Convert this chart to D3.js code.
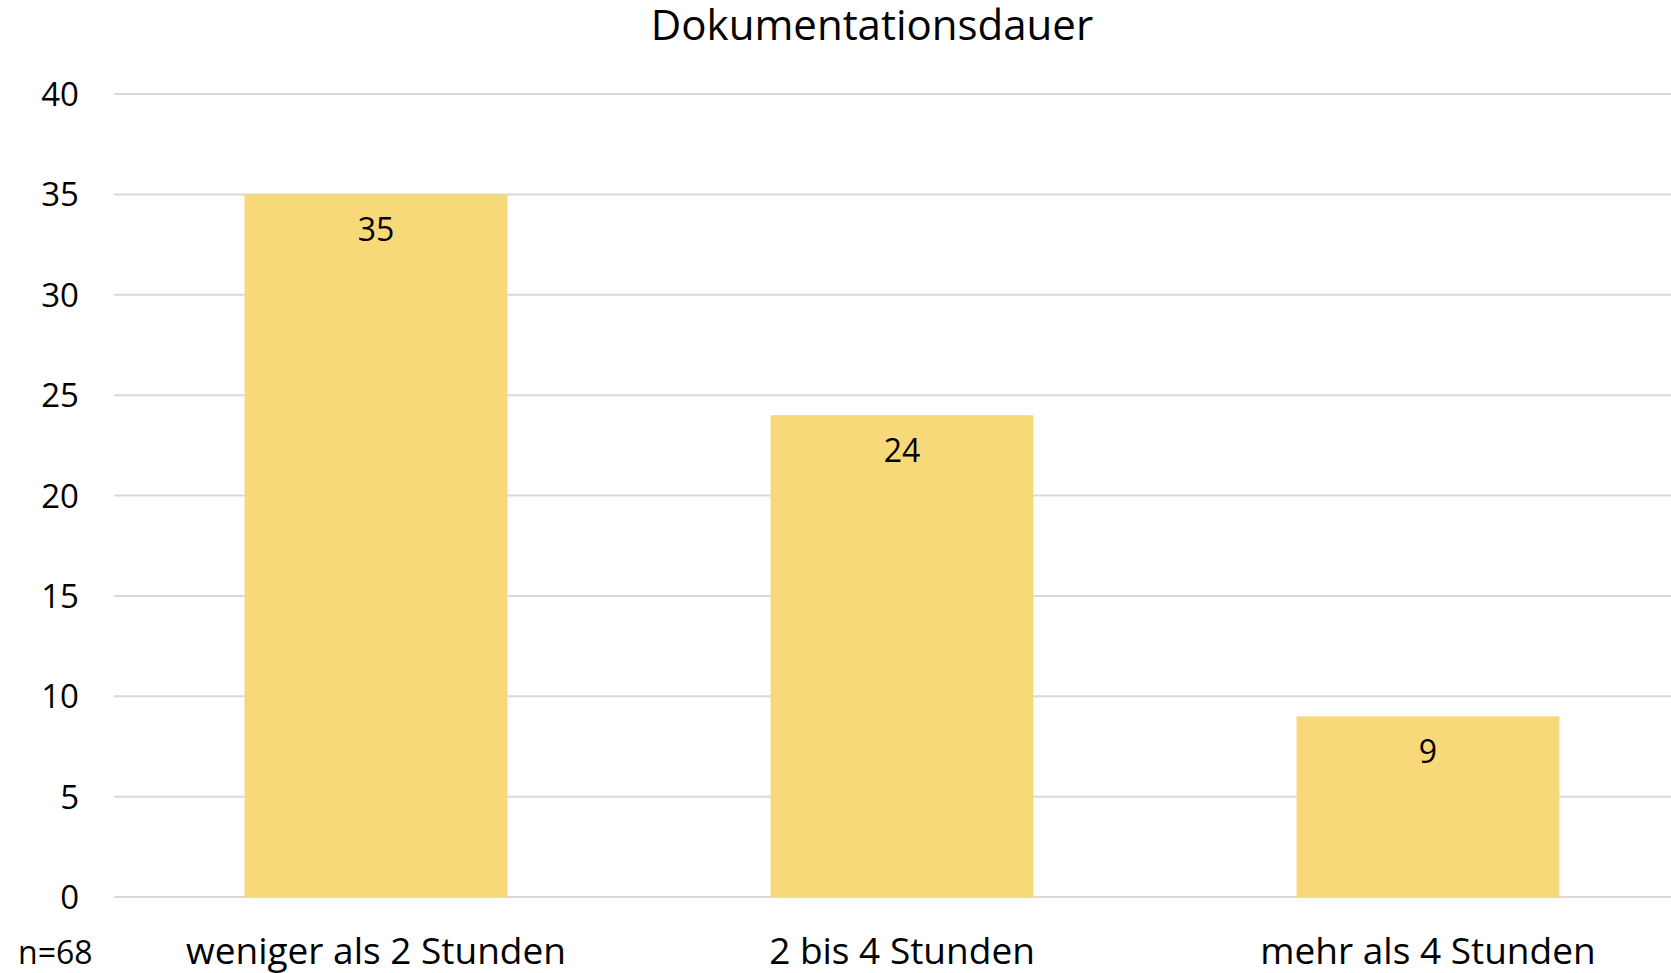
<!DOCTYPE html>
<html>
<head>
<meta charset="utf-8">
<script src="https://cdn.jsdelivr.net/npm/d3@7"></script>
<style>
  body { margin: 0; background: #fff; }
  text { font-family: "Open Sans", "Noto Sans", sans-serif; fill: #000; }
</style>
</head>
<body>
<div id="chart"></div>
<script>
var categories = ["weniger als 2 Stunden", "2 bis 4 Stunden", "mehr als 4 Stunden"];
var counts = [35, 24, 9];
var yTicks = [0, 5, 10, 15, 20, 25, 30, 35, 40];
var chartTitle = "Dokumentationsdauer";
var sampleNote = "n=68";

var width = 1671, height = 973;
var plotLeft = 114, plotRight = 1671, plotTop = 94, plotBottom = 897;

var svg = d3.select("#chart")
    .append("svg")
    .attr("width", width)
    .attr("height", height);

// plot area runs a bit past the right edge, like the original
var xScale = d3.scaleBand()
    .domain(categories)
    .range([113, 1691])
    .paddingInner(0.5)
    .paddingOuter(0.25);

var yScale = d3.scaleLinear()
    .domain([0, 40])
    .range([plotBottom, plotTop]);

// gridlines
svg.append("g").attr("class", "grid")
    .selectAll("line")
    .data(yTicks)
    .enter()
    .append("line")
    .attr("x1", plotLeft)
    .attr("x2", plotRight)
    .attr("y1", function(d){ return yScale(d); })
    .attr("y2", function(d){ return yScale(d); })
    .style("stroke", "#d9d9d9")
    .style("stroke-width", 2);

// bars
svg.append("g").attr("class", "bars")
    .selectAll("rect")
    .data(counts)
    .enter()
    .append("rect")
    .attr("x", function(d, i){ return xScale(categories[i]); })
    .attr("y", function(d){ return yScale(d); })
    .attr("width", xScale.bandwidth())
    .attr("height", function(d){ return yScale(0) - yScale(d); })
    .style("fill", "#f8d97a");

// value labels
svg.append("g").attr("class", "labels")
    .selectAll("text")
    .data(counts)
    .enter()
    .append("text")
    .attr("x", function(d, i){ return xScale(categories[i]) + xScale.bandwidth() / 2; })
    .attr("y", function(d){ return yScale(d) + 47; })
    .style("text-anchor", "middle")
    .style("font-size", "32px")
    .text(function(d){ return d; });

// y axis labels
svg.append("g").attr("class", "y-axis")
    .selectAll("text")
    .data(yTicks)
    .enter()
    .append("text")
    .attr("x", 79)
    .attr("y", function(d){ return yScale(d) + 12; })
    .style("text-anchor", "end")
    .style("font-size", "33px")
    .text(function(d){ return d; });

// x axis labels
svg.append("g").attr("class", "x-axis")
    .selectAll("text")
    .data(categories)
    .enter()
    .append("text")
    .attr("x", function(d){ return xScale(d) + xScale.bandwidth() / 2; })
    .attr("y", 964)
    .style("text-anchor", "middle")
    .style("font-size", "37px")
    .text(function(d){ return d; });

svg.append("text")
    .attr("x", 18)
    .attr("y", 964)
    .style("font-size", "32px")
    .text(sampleNote);

svg.append("text")
    .attr("x", 872)
    .attr("y", 40)
    .style("text-anchor", "middle")
    .style("font-size", "42px")
    .text(chartTitle);
</script>
</body>
</html>
